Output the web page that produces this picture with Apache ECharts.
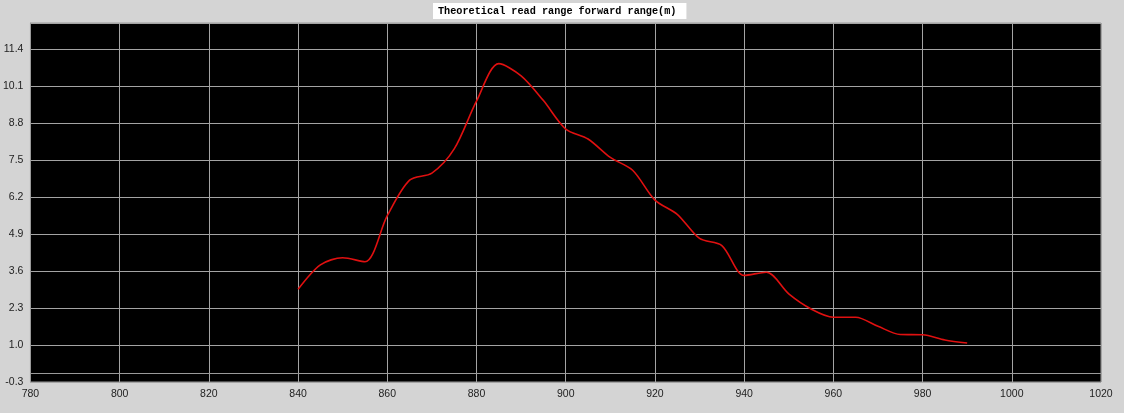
<!DOCTYPE html>
<html>
<head>
<meta charset="utf-8">
<script src="https://cdn.jsdelivr.net/npm/echarts@6/dist/echarts.min.js"></script>
<style>
html,body{margin:0;padding:0;background:#d4d4d4;}
#c{width:1124px;height:413px;}
</style>
</head>
<body>
<div id="c"></div>
<script>
const titleText = 'Theoretical read range forward range(m)';
const freqs = [840,845,850,855,860,865,870,875,880,885,890,895,900,905,910,915,920,925,930,935,940,945,950,955,960,965,970,975,980,985,990];
const ranges = [2.96,3.82,4.07,3.93,5.55,6.8,7.05,7.9,9.58,10.9,10.47,9.6,8.6,8.25,7.6,7.15,6.1,5.6,4.75,4.5,3.45,3.56,2.8,2.27,1.98,1.98,1.66,1.37,1.36,1.18,1.07];
const xMin = 780, xMax = 1020, xStep = 20;
const yMin = -0.3, yMax = 12.33, yStep = 1.3;

const chart = echarts.init(document.getElementById('c'));
chart.setOption({
  backgroundColor: '#d4d4d4',
  animation: false,
  title: {
    text: titleText,
    left: 433, top: 3,
    padding: [3, 10, 3, 5],
    backgroundColor: '#ffffff',
    textStyle: { fontFamily: 'Liberation Mono', fontSize: 10.2, fontWeight: 'bold', color: '#000' }
  },
  grid: {
    left: 29, right: 23, top: 23, bottom: 31,
    show: true, backgroundColor: '#000000', borderColor: '#9a9a9a', borderWidth: 1
  },
  xAxis: {
    type: 'value', min: xMin, max: xMax, interval: xStep,
    axisLine: { show: true, lineStyle: { color: '#9a9a9a' } },
    axisTick: { show: false },
    axisLabel: { color: '#222', fontFamily: 'Liberation Sans', fontSize: 10.5, margin: 7, formatter: v => String(v) },
    splitLine: { show: true, lineStyle: { color: '#a4a4a4', width: 1 } }
  },
  yAxis: {
    type: 'value', min: yMin, max: yMax, interval: yStep,
    axisLine: { show: true, lineStyle: { color: '#9a9a9a' } },
    axisTick: { show: false },
    axisLabel: {
      color: '#222', fontFamily: 'Liberation Sans', fontSize: 10.5, margin: 7,
      showMaxLabel: false,
      formatter: v => v.toFixed(1)
    },
    splitLine: { show: true, lineStyle: { color: '#a4a4a4', width: 1 } }
  },
  series: [{
    type: 'line',
    data: freqs.map((f, i) => [f, ranges[i]]),
    smooth: 0.3,
    showSymbol: false,
    lineStyle: { color: '#e01010', width: 1.6 },
    itemStyle: { color: '#e01010' }
  }]
});
</script>
</body>
</html>
